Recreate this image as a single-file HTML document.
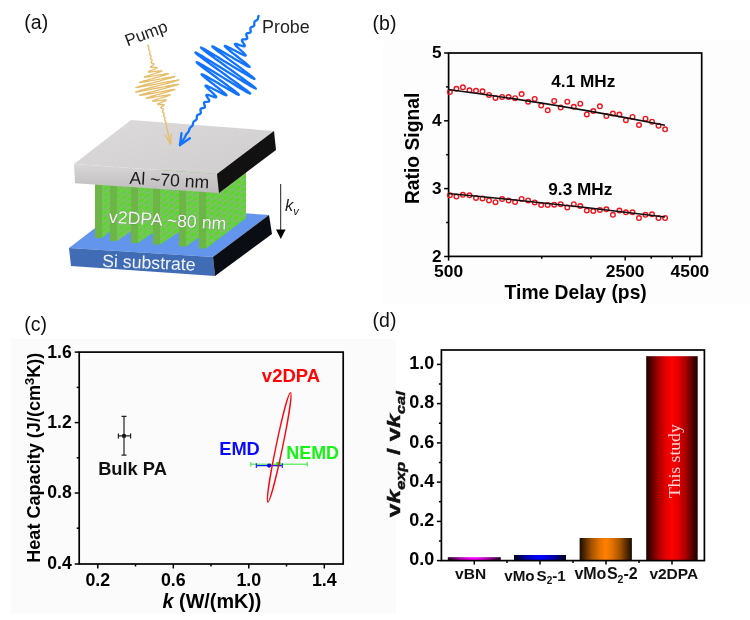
<!DOCTYPE html>
<html><head><meta charset="utf-8"><title>Figure</title>
<style>
html,body{margin:0;padding:0;background:#fff;}
body{width:750px;height:620px;overflow:hidden;}
svg{display:block;font-family:"Liberation Sans",sans-serif;}
.b{font-weight:bold;}
.ax{stroke:#000;stroke-width:1.7;fill:none;stroke-linecap:square;}
.tk{stroke:#000;stroke-width:1.5;fill:none;}
</style></head><body>
<svg width="750" height="620" viewBox="0 0 750 620">
<defs>
<linearGradient id="gRed" x1="0" x2="1" y1="0" y2="0"><stop offset="0.00" stop-color="#1c0000"/><stop offset="0.07" stop-color="#420000"/><stop offset="0.23" stop-color="#a60000"/><stop offset="0.38" stop-color="#e30000"/><stop offset="0.50" stop-color="#ff0000"/><stop offset="0.62" stop-color="#e30000"/><stop offset="0.77" stop-color="#a60000"/><stop offset="0.93" stop-color="#420000"/><stop offset="1.00" stop-color="#1c0000"/></linearGradient>
<linearGradient id="gOr" x1="0" x2="1" y1="0" y2="0"><stop offset="0.00" stop-color="#1c0e00"/><stop offset="0.07" stop-color="#422100"/><stop offset="0.23" stop-color="#a65300"/><stop offset="0.38" stop-color="#e37200"/><stop offset="0.50" stop-color="#ff8000"/><stop offset="0.62" stop-color="#e37200"/><stop offset="0.77" stop-color="#a65300"/><stop offset="0.93" stop-color="#422100"/><stop offset="1.00" stop-color="#1c0e00"/></linearGradient>
<linearGradient id="gBl" x1="0" x2="1" y1="0" y2="0"><stop offset="0.00" stop-color="#00001c"/><stop offset="0.07" stop-color="#000042"/><stop offset="0.23" stop-color="#0000a6"/><stop offset="0.38" stop-color="#0000e3"/><stop offset="0.50" stop-color="#0000ff"/><stop offset="0.62" stop-color="#0000e3"/><stop offset="0.77" stop-color="#0000a6"/><stop offset="0.93" stop-color="#000042"/><stop offset="1.00" stop-color="#00001c"/></linearGradient>
<linearGradient id="gMg" x1="0" x2="1" y1="0" y2="0"><stop offset="0.00" stop-color="#1c001c"/><stop offset="0.07" stop-color="#420042"/><stop offset="0.23" stop-color="#a600a6"/><stop offset="0.38" stop-color="#e300e3"/><stop offset="0.50" stop-color="#ff00ff"/><stop offset="0.62" stop-color="#e300e3"/><stop offset="0.77" stop-color="#a600a6"/><stop offset="0.93" stop-color="#420042"/><stop offset="1.00" stop-color="#1c001c"/></linearGradient>
<linearGradient id="gAlTop" x1="0" x2="1" y1="0" y2="1"><stop offset="0" stop-color="#dcdada"/><stop offset="1" stop-color="#cfcdcd"/></linearGradient>
<linearGradient id="gAlFront" x1="0" x2="0" y1="0" y2="1"><stop offset="0" stop-color="#d8d6d6"/><stop offset="1" stop-color="#bdbbbb"/></linearGradient>
<pattern id="tex" width="8" height="9" patternUnits="userSpaceOnUse" patternTransform="rotate(-38)"><rect width="8" height="9" fill="#74cc48"/><ellipse cx="4" cy="2.2" rx="2.9" ry="1.5" fill="#4fdd22"/><ellipse cx="0" cy="6.7" rx="2.9" ry="1.5" fill="#4fdd22"/><ellipse cx="8" cy="6.7" rx="2.9" ry="1.5" fill="#4fdd22"/><path d="M0 4.4H8M0 0H8M0 9H8" stroke="#98a892" stroke-width="0.8" fill="none"/><circle cx="0.5" cy="2.2" r="0.8" fill="#6fb0a0"/><circle cx="4" cy="6.7" r="0.8" fill="#6fb0a0"/></pattern>
</defs>
<rect width="750" height="620" fill="#fff"/>

<rect x="383" y="41" width="367" height="263" fill="#fdfdfd"/>
<rect x="11" y="339" width="385" height="274.5" fill="#fbfbfb"/>
<g font-size="19.5" fill="#111">
<text x="24.3" y="29">(a)</text><text x="372.6" y="29.7">(b)</text><text x="24.3" y="330.5">(c)</text><text x="372.6" y="326.8">(d)</text>
</g>
<g id="pa">
<polygon points="69,248 125,205 269,215 213,257" fill="#6495ed"/>
<polygon points="69,248 213,257 215,276 71,266" fill="#3f6cb4"/>
<polygon points="213,257 269,215 272,234 215,276" fill="#0a0d14"/>
<polygon points="102,170 110,170 110,231.6 102,238" fill="url(#tex)"/>
<rect x="95" y="170" width="7" height="68" fill="#6db546"/>
<polygon points="117,170 131,170 131,231.3 117,241" fill="url(#tex)"/>
<rect x="110" y="170" width="7" height="71" fill="#6db546"/>
<polygon points="138,170 153,170 153,232.8 138,243" fill="url(#tex)"/>
<rect x="131" y="170" width="7" height="73" fill="#6db546"/>
<polygon points="160,170 179,170 179,232.1 160,244.5" fill="url(#tex)"/>
<rect x="153" y="170" width="7" height="74.5" fill="#6db546"/>
<polygon points="186,170 199,170 199,237.3 186,246.5" fill="url(#tex)"/>
<rect x="179" y="170" width="7" height="76.5" fill="#6db546"/>
<polygon points="206,170 246,170 246,218 206,248.5" fill="url(#tex)"/>
<rect x="199" y="170" width="7" height="78.5" fill="#6db546"/>
<polygon points="131,120 274,131 217,174 74,164" fill="url(#gAlTop)"/>
<polygon points="74,164 217,174 219,193 75,183.3" fill="url(#gAlFront)"/>
<polygon points="217,174 274,131 276,150 219,193" fill="#111"/>
<text x="129.3" y="183.8" font-size="17.6" fill="#1a1a1a" transform="rotate(3.2 129.3 183.8)">Al ~70 nm</text>
<text x="108.5" y="222.7" font-size="17.8" fill="#f4f4f4" transform="rotate(3.4 108.5 222.7)" style="paint-order:stroke" stroke="#6a8a5a" stroke-width="0.6">v2DPA ~80 nm</text>
<text x="102" y="266.7" font-size="17.7" fill="#f2f4fa" transform="rotate(2.4 102 266.7)">Si substrate</text>
<line x1="280.7" y1="184" x2="280.7" y2="232" stroke="#222" stroke-width="1"/>
<polygon points="276,229.5 285.6,229.5 280.8,239" fill="#000"/>
<text x="285" y="211" font-size="16.5" font-style="italic" fill="#222">k<tspan font-size="11" dy="3.5">v</tspan></text>
<path d="M147.9 45 L147.9 45.1 L147.9 45.2 L147.9 45.4 L147.9 45.5 L147.9 45.6 L147.9 45.7 L148 45.8 L148 45.9 L148 46 L148.1 46.1 L148.1 46.3 L148.1 46.4 L148.2 46.5 L148.2 46.6 L148.3 46.7 L148.4 46.8 L148.4 46.9 L148.5 47 L148.6 47.1 L148.6 47.2 L148.7 47.3 L148.7 47.4 L148.8 47.5 L148.8 47.6 L148.9 47.7 L148.9 47.8 L148.9 47.9 L148.9 48 L149 48.1 L149 48.3 L149 48.4 L148.9 48.5 L148.9 48.6 L148.9 48.7 L148.9 48.8 L148.9 49 L148.9 49.1 L148.8 49.2 L148.8 49.3 L148.8 49.4 L148.8 49.6 L148.8 49.7 L148.8 49.8 L148.8 49.9 L148.8 50 L148.8 50.1 L148.9 50.2 L148.9 50.3 L149 50.4 L149 50.5 L149.1 50.6 L149.2 50.7 L149.3 50.8 L149.3 50.9 L149.4 51 L149.5 51.1 L149.6 51.2 L149.7 51.3 L149.7 51.4 L149.8 51.5 L149.8 51.6 L149.9 51.7 L149.9 51.8 L150 52 L150 52.1 L150 52.2 L150 52.3 L150 52.4 L150 52.5 L149.9 52.7 L149.9 52.8 L149.9 52.9 L149.8 53 L149.8 53.2 L149.7 53.3 L149.7 53.4 L149.7 53.5 L149.6 53.7 L149.6 53.8 L149.6 53.9 L149.6 54 L149.6 54.1 L149.6 54.2 L149.7 54.3 L149.7 54.4 L149.8 54.5 L149.9 54.6 L149.9 54.7 L150 54.8 L150.1 54.9 L150.2 55 L150.3 55.1 L150.4 55.2 L150.5 55.3 L150.6 55.4 L150.7 55.5 L150.8 55.6 L150.9 55.7 L150.9 55.8 L151 55.9 L151 56 L151 56.1 L151.1 56.2 L151 56.3 L151 56.5 L151 56.6 L151 56.7 L150.9 56.8 L150.8 57 L150.8 57.1 L150.7 57.2 L150.6 57.4 L150.6 57.5 L150.5 57.6 L150.5 57.7 L150.4 57.9 L150.4 58 L150.4 58.1 L150.4 58.2 L150.4 58.3 L150.5 58.4 L150.5 58.5 L150.6 58.6 L150.7 58.7 L150.7 58.8 L150.9 58.9 L151 59 L151.1 59.1 L151.2 59.2 L151.4 59.3 L151.5 59.4 L151.6 59.5 L151.7 59.5 L151.8 59.6 L151.9 59.7 L152 59.8 L152.1 59.9 L152.1 60 L152.1 60.1 L152.1 60.3 L152.1 60.4 L152.1 60.5 L152.1 60.6 L152 60.7 L151.9 60.9 L151.9 61 L151.8 61.2 L151.7 61.3 L151.6 61.4 L151.5 61.6 L151.4 61.7 L151.3 61.8 L151.3 62 L151.2 62.1 L151.1 62.2 L151.1 62.3 L151.1 62.5 L151.1 62.6 L151.1 62.7 L151.2 62.8 L151.3 62.9 L151.4 63 L151.5 63.1 L151.7 63.1 L151.9 63.2 L152.1 63.3 L152.3 63.3 L152.5 63.4 L152.7 63.5 L152.9 63.5 L153.1 63.6 L153.3 63.7 L153.5 63.8 L153.7 63.8 L153.8 63.9 L153.8 64 L153.9 64.1 L153.9 64.3 L153.8 64.4 L153.7 64.5 L153.6 64.7 L153.4 64.8 L153.2 65 L153 65.2 L152.7 65.3 L152.4 65.5 L152.1 65.7 L151.8 65.9 L151.5 66.1 L151.2 66.2 L151 66.4 L150.8 66.6 L150.6 66.7 L150.5 66.9 L150.5 67 L150.5 67.1 L150.6 67.2 L150.8 67.3 L151 67.3 L151.4 67.4 L151.7 67.4 L152.2 67.4 L152.6 67.4 L153.2 67.4 L153.7 67.4 L154.2 67.4 L154.8 67.4 L155.3 67.4 L155.8 67.4 L156.2 67.4 L156.5 67.5 L156.8 67.5 L157 67.6 L157.1 67.7 L157 67.8 L156.9 68 L156.7 68.1 L156.3 68.3 L155.9 68.5 L155.3 68.8 L154.7 69 L154 69.3 L153.3 69.6 L152.5 69.9 L151.8 70.2 L151 70.5 L150.3 70.7 L149.7 71 L149.2 71.2 L148.8 71.4 L148.5 71.6 L148.3 71.8 L148.3 71.9 L148.5 72 L148.8 72 L149.3 72 L149.9 72 L150.7 71.9 L151.6 71.8 L152.6 71.7 L153.7 71.6 L154.8 71.4 L156 71.3 L157.1 71.2 L158.2 71 L159.2 70.9 L160.1 70.8 L160.8 70.8 L161.4 70.8 L161.8 70.8 L162 70.8 L162 71 L161.8 71.1 L161.3 71.4 L160.6 71.6 L159.7 72 L158.6 72.3 L157.4 72.7 L156 73.1 L154.6 73.6 L153 74 L151.5 74.5 L150.1 75 L148.7 75.4 L147.4 75.8 L146.3 76.2 L145.4 76.5 L144.8 76.7 L144.4 76.9 L144.3 77.1 L144.5 77.1 L145 77.1 L145.8 77.1 L146.9 76.9 L148.3 76.8 L149.8 76.5 L151.6 76.2 L153.5 75.9 L155.5 75.6 L157.5 75.2 L159.5 74.9 L161.5 74.6 L163.3 74.3 L164.9 74 L166.2 73.8 L167.3 73.7 L168.1 73.6 L168.5 73.7 L168.5 73.8 L168.2 74 L167.4 74.2 L166.4 74.6 L164.9 75 L163.2 75.6 L161.2 76.1 L158.9 76.8 L156.6 77.4 L154.1 78.1 L151.6 78.8 L149.2 79.4 L147 80.1 L144.9 80.6 L143 81.2 L141.6 81.6 L140.4 82 L139.7 82.3 L139.4 82.5 L139.6 82.5 L140.3 82.5 L141.4 82.4 L142.9 82.1 L144.8 81.8 L147.1 81.4 L149.7 80.9 L152.5 80.4 L155.4 79.9 L158.4 79.3 L161.3 78.8 L164.2 78.2 L166.8 77.7 L169.2 77.3 L171.3 77 L172.9 76.7 L174.1 76.6 L174.8 76.5 L175 76.6 L174.6 76.8 L173.7 77.1 L172.3 77.5 L170.4 78.1 L168.1 78.7 L165.4 79.4 L162.5 80.2 L159.3 81.1 L156 81.9 L152.7 82.8 L149.5 83.7 L146.4 84.5 L143.6 85.2 L141.1 85.9 L139 86.5 L137.4 87 L136.4 87.3 L135.9 87.5 L136 87.6 L136.6 87.6 L137.9 87.4 L139.7 87.1 L142 86.7 L144.7 86.2 L147.8 85.7 L151.1 85 L154.6 84.3 L158.3 83.6 L161.8 82.9 L165.3 82.2 L168.6 81.6 L171.5 81.1 L174 80.6 L176.1 80.3 L177.6 80 L178.5 79.9 L178.9 80 L178.6 80.2 L177.7 80.5 L176.3 80.9 L174.2 81.5 L171.7 82.2 L168.8 83 L165.6 83.8 L162.1 84.7 L158.5 85.6 L154.8 86.6 L151.3 87.5 L147.9 88.4 L144.7 89.2 L141.9 90 L139.6 90.6 L137.8 91.2 L136.5 91.6 L135.8 91.8 L135.8 92 L136.3 92 L137.5 91.8 L139.2 91.5 L141.4 91.1 L144.1 90.7 L147.2 90.1 L150.5 89.4 L154 88.7 L157.6 88 L161.2 87.3 L164.7 86.7 L168 86 L170.9 85.5 L173.5 85 L175.6 84.6 L177.2 84.4 L178.3 84.3 L178.7 84.3 L178.6 84.4 L177.9 84.7 L176.7 85.1 L174.9 85.6 L172.7 86.2 L170.1 86.9 L167.2 87.7 L164 88.6 L160.7 89.4 L157.4 90.3 L154.2 91.1 L151.1 92 L148.2 92.7 L145.7 93.4 L143.5 94 L141.8 94.5 L140.5 94.9 L139.8 95.2 L139.7 95.4 L140 95.4 L140.9 95.3 L142.2 95.1 L144 94.8 L146.2 94.5 L148.7 94 L151.4 93.5 L154.3 93 L157.3 92.4 L160.3 91.8 L163.2 91.3 L165.9 90.8 L168.3 90.4 L170.5 90 L172.3 89.7 L173.7 89.5 L174.6 89.4 L175.1 89.4 L175.1 89.5 L174.7 89.7 L173.8 90 L172.6 90.4 L171 90.9 L169 91.5 L166.9 92.1 L164.5 92.7 L162.1 93.4 L159.6 94.1 L157.2 94.7 L154.9 95.4 L152.7 96 L150.8 96.5 L149.2 97 L147.8 97.4 L146.9 97.8 L146.3 98 L146.1 98.2 L146.2 98.3 L146.8 98.3 L147.6 98.2 L148.8 98 L150.3 97.8 L152 97.5 L153.8 97.2 L155.8 96.9 L157.8 96.6 L159.9 96.2 L161.8 95.9 L163.7 95.6 L165.4 95.3 L166.9 95.1 L168.1 94.9 L169.1 94.8 L169.8 94.8 L170.2 94.8 L170.3 94.9 L170.1 95 L169.6 95.3 L168.9 95.5 L167.9 95.9 L166.8 96.3 L165.5 96.7 L164 97.1 L162.5 97.6 L161 98 L159.5 98.5 L158.1 98.9 L156.8 99.3 L155.6 99.7 L154.6 100.1 L153.8 100.4 L153.1 100.6 L152.7 100.8 L152.6 101 L152.6 101.1 L152.9 101.2 L153.4 101.2 L154 101.1 L154.8 101.1 L155.8 101 L156.8 100.8 L157.9 100.7 L159.1 100.6 L160.2 100.4 L161.3 100.3 L162.4 100.2 L163.4 100 L164.2 100 L164.9 99.9 L165.5 99.9 L165.9 99.9 L166.2 100 L166.3 100.1 L166.3 100.2 L166 100.4 L165.7 100.6 L165.2 100.8 L164.7 101 L164 101.3 L163.3 101.6 L162.6 101.8 L161.8 102.1 L161.1 102.4 L160.4 102.7 L159.7 103 L159.1 103.2 L158.6 103.4 L158.2 103.7 L157.9 103.8 L157.6 104 L157.6 104.1 L157.6 104.3 L157.7 104.3 L157.9 104.4 L158.2 104.5 L158.6 104.5 L159 104.5 L159.5 104.5 L160 104.5 L160.6 104.5 L161.1 104.5 L161.6 104.5 L162.1 104.5 L162.6 104.5 L163 104.5 L163.4 104.6 L163.7 104.6 L163.9 104.7 L164 104.7 L164.1 104.8 L164.1 105 L164.1 105.1 L163.9 105.2 L163.8 105.4 L163.6 105.6 L163.3 105.7 L163 105.9 L162.7 106.1 L162.4 106.3 L162.1 106.5 L161.8 106.6 L161.6 106.8 L161.3 107 L161.1 107.1 L161 107.3 L160.8 107.4 L160.8 107.6 L160.7 107.7 L160.7 107.8 L160.8 107.9 L160.9 108 L161 108.1 L161.2 108.2 L161.3 108.3 L161.5 108.3 L161.8 108.4 L162 108.5 L162.2 108.5 L162.4 108.6 L162.6 108.7 L162.8 108.7 L163 108.8 L163.1 108.9 L163.3 109 L163.4 109.1 L163.4 109.2 L163.5 109.3 L163.5 109.4 L163.5 109.5 L163.5 109.6 L163.5 109.7 L163.4 109.9 L163.3 110 L163.3 110.1 L163.2 110.3 L163.1 110.4 L163 110.5 L162.9 110.7 L162.8 110.8 L162.7 110.9 L162.7 111.1 L162.6 111.2 L162.5 111.3 L162.5 111.5 L162.5 111.6 L162.5 111.7 L162.5 111.8 L162.5 111.9 L162.6 112 L162.6 112.1 L162.7 112.2 L162.8 112.3 L162.9 112.4 L163.1 112.5 L163.2 112.6 L163.3 112.7 L163.4 112.8 L163.6 112.8 L163.7 112.9 L163.8 113 L163.9 113.1 L164 113.2 L164.1 113.3 L164.1 113.4 L164.2 113.5 L164.2 113.6 L164.2 113.7 L164.2 113.8 L164.2 114 L164.2 114.1 L164.1 114.2 L164.1 114.3 L164 114.5 L163.9 114.6 L163.9 114.7 L163.8 114.9 L163.8 115 L163.7 115.1 L163.6 115.2 L163.6 115.4 L163.6 115.5 L163.6 115.6 L163.6 115.7 L163.6 115.8 L163.6 116 L163.6 116.1 L163.7 116.2 L163.8 116.3 L163.8 116.4 L163.9 116.5 L164 116.6 L164.1 116.6 L164.2 116.7 L164.3 116.8 L164.4 116.9 L164.5 117 L164.6 117.1 L164.7 117.2 L164.8 117.3 L164.8 117.4 L164.9 117.5 L164.9 117.6 L165 117.7 L165 117.8 L165 117.9 L165 118.1 L165 118.2 L165 118.3 L164.9 118.4 L164.9 118.5 L164.9 118.7 L164.8 118.8 L164.8 118.9 L164.7 119 L164.7 119.2 L164.7 119.3 L164.7 119.4 L164.6 119.5 L164.6 119.7 L164.6 119.8 L164.6 119.9 L164.7 120 L164.7 120.1 L164.7 120.2 L164.8 120.3 L164.8 120.4 L164.9 120.5 L165 120.6 L165.1 120.7 L165.1 120.8 L165.2 120.9 L165.3 121 L165.4 121.1 L165.5 121.2 L165.5 121.3 L165.6 121.4 L165.7 121.5 L165.7 121.6 L165.7 121.7 L165.8 121.8 L165.8 121.9 L165.8 122 L165.8 122.2 L165.8 122.3 L165.8 122.4 L165.8 122.5 L165.8 122.6 L165.8 122.7 L165.8 122.9 L165.7 123 L165.7 123.1 L165.7 123.2 L165.7 123.3 L165.7 123.5 L165.7 123.6 L165.7 123.7 L165.7 123.8 L165.7 123.9 L165.7 124 L165.7 124.1 L165.8 124.3 L165.8 124.4 L165.8 124.5 L165.9 124.6 L166 124.7 L166 124.8 L166.1 124.9 L166.1 125 L166.2 125.1 L166.3 125.2 L166.3 125.3 L166.4 125.4 L166.4 125.5 L166.5 125.6 L166.5 125.7 L166.6 125.8 L166.6 125.9 L166.6 126 L166.7 126.1 L166.7 126.2 L166.7 126.4 L166.7 126.5 L166.7 126.6 L166.7 126.7 L166.7 126.8 L166.7 126.9 L166.7 127.1 L166.7 127.2 L166.7 127.3 L166.7 127.4 L166.7 127.5 L166.7 127.6 L166.7 127.8 L166.7 127.9 L166.7 128 L166.7 128.1 L166.7 128.2 L166.8 128.3 L166.8 128.4 L166.8 128.5 L166.9 128.6 L166.9 128.7 L167 128.8 L167 128.9 L167.1 129 L167.1 129.2 L167.2 129.3 L167.2 129.4 L167.3 129.5 L167.3 129.6 L167.4 129.7 L167.4 129.8 L167.4 129.9 L167.5 130 L167.5 130.1 L167.5 130.2 L167.5 130.3 L167.5 130.4 L167.6 130.6 L167.6 130.7 L167.6 130.8 L167.6 130.9 L167.6 131 L167.6 131.1 L167.6 131.2 L167.6 131.4 L167.6 131.5 L167.6 131.6 L167.6 131.7 L167.6 131.8 L167.7 131.9 L167.7 132 L167.7 132.1 L167.7 132.3 L167.7 132.4 L167.8 132.5 L167.8 132.6 L167.8 132.7 L167.9 132.8 L167.9 132.9 L168 133 L168 133.1 L168 133.2 L168.1 133.3 L168.1 133.4 L168.2 133.5 L168.2 133.6 L168.2 133.8 L168.3 133.9 L168.3 134 L168.3 134.1 L168.4 134.2 L168.4 134.3 L168.4 134.4 L168.4 134.5 L168.4 134.6 L168.5 134.7 L168.5 134.9 L168.5 135 L168.5 135.1 L168.5 135.2 L168.5 135.3 L168.5 135.4 L168.6 135.5 L168.6 135.6 L168.6 135.8 L168.6 135.9 L168.6 136 L168.6 136.1 L168.7 136.2 L168.7 136.3 L168.7 136.4 L168.7 136.5 L168.8 136.6 L168.8 136.8 L168.8 136.9 L168.9 137 L168.9 137.1 L168.9 137.2 L169 137.3 L169 137.4 L169 137.5 L169.1 137.6 L169.1 137.7 L169.1 137.8 L169.2 137.9 L169.2 138 L169.2 138.2 L169.3 138.3 L169.3 138.4 L169.3 138.5 L169.3 138.6 L169.3 138.7 L169.4 138.8 L169.4 138.9 L169.4 139 L169.4 139.2 L169.4 139.3 L169.5 139.4 L169.5 139.5 L169.5 139.6 L169.5 139.7 L169.5 139.8 L169.5 139.9 L169.6 140 L169.6 140.2 L169.6 140.3 L169.6 140.4 L169.7 140.5 L169.7 140.6 L169.7 140.7 L169.7 140.8 L169.8 140.9 L169.8 141 L169.8 141.1 L169.9 141.3 L169.9 141.4 L169.9 141.5 L170 141.6 L170 141.7 L170 141.8 L170 141.9 L170.1 142 L170.1 142.1 L170.1 142.2 L170.2 142.3 L170.2 142.5 L170.2 142.6 L170.2 142.7 L170.3 142.8 L170.3 142.9 L170.3 143 L170.3 143.1 L170.3 143.2 L170.4 143.3 L170.4 143.4 L170.4 143.6 L170.4 143.7 L170.4 143.8 L170.5 143.9 L170.5 144" fill="none" stroke="#e6bd68" stroke-width="1.3" stroke-linejoin="round" stroke-linecap="round"/>
<line x1="170.5" y1="144" x2="171.3" y2="134" stroke="#e6bd68" stroke-width="1.3" stroke-linecap="round"/>
<line x1="170.5" y1="144" x2="165.5" y2="135.3" stroke="#e6bd68" stroke-width="1.3" stroke-linecap="round"/>
<path d="M258.6 15.8 L258.6 15.9 L258.5 16.1 L258.4 16.2 L258.4 16.4 L258.3 16.6 L258.3 16.7 L258.2 16.9 L258.2 17.1 L258.2 17.3 L258.2 17.5 L258.1 17.6 L258.1 17.8 L258.1 18 L258 18.2 L258 18.4 L258 18.5 L257.9 18.7 L257.8 18.9 L257.8 19 L257.7 19.2 L257.6 19.3 L257.5 19.5 L257.4 19.6 L257.3 19.7 L257.2 19.8 L257.1 20 L256.9 20.1 L256.8 20.2 L256.6 20.3 L256.5 20.4 L256.3 20.5 L256.1 20.6 L256 20.6 L255.8 20.7 L255.7 20.8 L255.5 20.9 L255.4 21 L255.2 21.1 L255.1 21.3 L255 21.4 L254.8 21.5 L254.7 21.6 L254.6 21.8 L254.6 21.9 L254.5 22.1 L254.5 22.3 L254.4 22.4 L254.4 22.6 L254.4 22.8 L254.3 23 L254.3 23.2 L254.3 23.4 L254.3 23.6 L254.3 23.8 L254.3 24 L254.3 24.2 L254.3 24.4 L254.3 24.6 L254.3 24.8 L254.3 25 L254.3 25.2 L254.2 25.3 L254.2 25.5 L254.1 25.6 L254 25.8 L253.9 25.9 L253.8 26 L253.6 26.2 L253.5 26.3 L253.3 26.4 L253.2 26.4 L253 26.5 L252.8 26.6 L252.6 26.7 L252.4 26.8 L252.2 26.8 L252 26.9 L251.8 27 L251.6 27 L251.4 27.1 L251.3 27.2 L251.1 27.3 L251 27.4 L250.8 27.5 L250.7 27.6 L250.6 27.8 L250.5 27.9 L250.5 28.1 L250.4 28.2 L250.4 28.4 L250.4 28.6 L250.4 28.8 L250.4 29 L250.4 29.2 L250.4 29.5 L250.5 29.7 L250.5 29.9 L250.6 30.1 L250.6 30.4 L250.6 30.6 L250.7 30.8 L250.7 31.1 L250.7 31.3 L250.7 31.5 L250.7 31.7 L250.7 31.8 L250.6 32 L250.5 32.2 L250.4 32.3 L250.3 32.4 L250.2 32.5 L250 32.6 L249.8 32.7 L249.7 32.8 L249.4 32.8 L249.2 32.9 L249 32.9 L248.8 33 L248.5 33 L248.3 33.1 L248 33.1 L247.8 33.1 L247.6 33.2 L247.3 33.3 L247.1 33.3 L246.9 33.4 L246.8 33.5 L246.6 33.6 L246.5 33.7 L246.4 33.8 L246.3 34 L246.3 34.2 L246.3 34.4 L246.3 34.6 L246.3 34.8 L246.3 35 L246.4 35.2 L246.4 35.5 L246.5 35.7 L246.6 36 L246.7 36.3 L246.8 36.5 L246.9 36.8 L247 37.1 L247.1 37.3 L247.1 37.5 L247.2 37.8 L247.2 38 L247.2 38.2 L247.2 38.4 L247.1 38.5 L247 38.7 L246.9 38.8 L246.8 38.9 L246.6 39 L246.4 39.1 L246.2 39.2 L246 39.2 L245.7 39.2 L245.4 39.3 L245.2 39.3 L244.9 39.3 L244.6 39.3 L244.3 39.3 L244 39.3 L243.7 39.3 L243.4 39.3 L243.2 39.4 L242.9 39.4 L242.7 39.5 L242.5 39.5 L242.4 39.6 L242.2 39.7 L242.1 39.8 L242 40 L241.9 40.1 L241.9 40.3 L241.9 40.5 L242 40.8 L242.1 41.1 L242.2 41.3 L242.4 41.7 L242.6 42 L242.8 42.3 L243 42.7 L243.3 43.1 L243.5 43.4 L243.8 43.8 L244 44.1 L244.2 44.5 L244.4 44.8 L244.6 45.1 L244.7 45.4 L244.8 45.7 L244.8 45.9 L244.7 46.1 L244.7 46.2 L244.5 46.3 L244.3 46.3 L244 46.3 L243.6 46.3 L243.2 46.2 L242.7 46.1 L242.1 45.9 L241.6 45.8 L240.9 45.5 L240.3 45.3 L239.6 45.1 L239 44.8 L238.3 44.6 L237.7 44.4 L237.1 44.2 L236.6 44 L236.1 43.9 L235.7 43.8 L235.3 43.8 L235.1 43.8 L234.9 44 L234.9 44.1 L235 44.4 L235.2 44.7 L235.4 45.1 L235.8 45.6 L236.3 46.1 L236.9 46.7 L237.6 47.3 L238.3 48 L239.1 48.7 L239.9 49.5 L240.7 50.2 L241.5 51 L242.3 51.7 L243.1 52.4 L243.8 53.1 L244.4 53.7 L244.9 54.3 L245.3 54.7 L245.6 55.1 L245.7 55.4 L245.6 55.5 L245.4 55.6 L245 55.5 L244.5 55.4 L243.8 55.1 L242.9 54.7 L241.9 54.2 L240.7 53.7 L239.5 53 L238.1 52.3 L236.7 51.6 L235.2 50.8 L233.8 50 L232.3 49.3 L230.9 48.5 L229.6 47.9 L228.4 47.3 L227.3 46.7 L226.4 46.3 L225.7 46 L225.2 45.9 L224.8 45.9 L224.8 46 L224.9 46.4 L225.4 46.8 L226 47.5 L226.9 48.3 L228 49.2 L229.3 50.3 L230.8 51.5 L232.4 52.8 L234.1 54.1 L235.9 55.5 L237.8 57 L239.6 58.4 L241.4 59.8 L243.2 61.2 L244.8 62.4 L246.2 63.6 L247.4 64.6 L248.4 65.5 L249.1 66.2 L249.5 66.6 L249.6 66.9 L249.4 67 L248.9 66.8 L248 66.4 L246.8 65.9 L245.4 65.1 L243.6 64.1 L241.6 62.9 L239.3 61.6 L236.9 60.2 L234.3 58.7 L231.7 57.1 L229 55.6 L226.4 54 L223.9 52.5 L221.4 51.1 L219.2 49.8 L217.2 48.7 L215.5 47.7 L214.1 47 L213.1 46.5 L212.5 46.3 L212.3 46.4 L212.4 46.7 L213.1 47.3 L214.1 48.2 L215.5 49.4 L217.3 50.8 L219.5 52.4 L221.9 54.2 L224.6 56.2 L227.5 58.4 L230.5 60.6 L233.6 62.9 L236.7 65.2 L239.8 67.4 L242.7 69.6 L245.4 71.6 L247.9 73.4 L250 75.1 L251.8 76.4 L253.2 77.6 L254.1 78.4 L254.5 78.9 L254.4 79 L253.8 78.8 L252.8 78.3 L251.2 77.5 L249.2 76.3 L246.7 74.8 L243.8 73.1 L240.7 71.2 L237.2 69.1 L233.6 66.9 L229.8 64.6 L226 62.2 L222.2 59.9 L218.5 57.6 L215 55.4 L211.7 53.5 L208.8 51.7 L206.2 50.2 L204.2 49 L202.6 48.2 L201.5 47.7 L201 47.5 L201.1 47.8 L201.7 48.4 L202.9 49.4 L204.6 50.8 L206.9 52.5 L209.6 54.5 L212.7 56.7 L216.1 59.3 L219.8 61.9 L223.7 64.7 L227.7 67.6 L231.8 70.5 L235.7 73.4 L239.5 76.1 L243.1 78.7 L246.3 81.1 L249.2 83.2 L251.6 85 L253.5 86.5 L254.8 87.6 L255.6 88.3 L255.8 88.6 L255.4 88.5 L254.3 88 L252.7 87.1 L250.5 85.9 L247.8 84.3 L244.7 82.4 L241.2 80.2 L237.3 77.9 L233.2 75.3 L229 72.7 L224.6 70 L220.3 67.3 L216.1 64.7 L212.1 62.2 L208.4 59.9 L205 57.9 L202.1 56.1 L199.6 54.7 L197.7 53.6 L196.3 52.9 L195.5 52.5 L195.4 52.6 L195.8 53.1 L196.8 54 L198.4 55.3 L200.6 56.9 L203.2 58.9 L206.2 61.1 L209.6 63.6 L213.3 66.2 L217.2 69 L221.2 71.9 L225.2 74.8 L229.1 77.7 L233 80.4 L236.6 83 L239.9 85.4 L242.8 87.6 L245.3 89.5 L247.3 91 L248.8 92.2 L249.8 93.1 L250.2 93.5 L250 93.6 L249.3 93.3 L248 92.7 L246.1 91.7 L243.9 90.3 L241.1 88.7 L238.1 86.9 L234.7 84.8 L231.1 82.6 L227.3 80.3 L223.5 77.9 L219.7 75.6 L216 73.3 L212.4 71.1 L209.1 69.1 L206 67.2 L203.3 65.6 L201 64.3 L199.2 63.3 L197.9 62.6 L197 62.2 L196.6 62.2 L196.8 62.5 L197.4 63.1 L198.5 64 L200.1 65.3 L202 66.8 L204.3 68.5 L206.9 70.5 L209.7 72.5 L212.7 74.7 L215.8 77 L218.9 79.3 L222 81.5 L224.9 83.7 L227.8 85.8 L230.3 87.8 L232.7 89.5 L234.7 91 L236.3 92.3 L237.6 93.4 L238.4 94.2 L238.8 94.6 L238.8 94.9 L238.4 94.8 L237.6 94.4 L236.5 93.9 L234.9 93 L233.1 92 L231 90.8 L228.7 89.5 L226.2 88 L223.6 86.5 L220.9 84.9 L218.3 83.3 L215.7 81.8 L213.2 80.3 L210.8 78.9 L208.7 77.7 L206.8 76.6 L205.1 75.7 L203.8 75 L202.7 74.5 L202 74.2 L201.6 74.2 L201.5 74.3 L201.8 74.7 L202.3 75.3 L203.2 76 L204.3 77 L205.6 78.1 L207.1 79.3 L208.7 80.6 L210.5 82 L212.3 83.4 L214.2 84.8 L216 86.3 L217.8 87.6 L219.5 89 L221 90.2 L222.4 91.4 L223.7 92.4 L224.7 93.3 L225.5 94 L226 94.5 L226.3 95 L226.4 95.2 L226.2 95.3 L225.8 95.2 L225.2 95 L224.4 94.7 L223.4 94.2 L222.2 93.6 L221 93 L219.6 92.3 L218.2 91.5 L216.7 90.8 L215.3 90 L213.8 89.2 L212.4 88.5 L211.1 87.8 L209.9 87.2 L208.8 86.7 L207.9 86.3 L207.1 85.9 L206.4 85.7 L205.9 85.6 L205.6 85.6 L205.5 85.7 L205.5 85.9 L205.7 86.2 L206 86.6 L206.4 87.1 L207 87.7 L207.6 88.3 L208.4 89 L209.2 89.7 L210 90.5 L210.8 91.2 L211.6 92 L212.4 92.7 L213.2 93.4 L213.9 94.1 L214.5 94.7 L215 95.3 L215.5 95.8 L215.8 96.2 L216.1 96.6 L216.2 96.9 L216.2 97.1 L216.2 97.3 L216 97.3 L215.7 97.3 L215.3 97.3 L214.9 97.2 L214.4 97.1 L213.8 96.9 L213.2 96.7 L212.5 96.5 L211.9 96.2 L211.2 96 L210.6 95.7 L209.9 95.5 L209.3 95.3 L208.8 95.1 L208.2 95 L207.8 94.9 L207.4 94.8 L207.1 94.8 L206.8 94.8 L206.6 94.9 L206.5 95 L206.4 95.2 L206.4 95.4 L206.4 95.6 L206.5 95.9 L206.6 96.1 L206.8 96.5 L207 96.8 L207.3 97.2 L207.5 97.5 L207.8 97.9 L208 98.3 L208.2 98.6 L208.5 99 L208.7 99.3 L208.9 99.6 L209 99.9 L209.1 100.2 L209.2 100.5 L209.2 100.7 L209.2 100.9 L209.2 101.1 L209.1 101.3 L209 101.4 L208.9 101.5 L208.7 101.6 L208.5 101.7 L208.3 101.7 L208.1 101.8 L207.9 101.8 L207.6 101.8 L207.3 101.9 L207.1 101.9 L206.8 101.9 L206.5 101.9 L206.2 101.9 L205.9 101.9 L205.6 101.9 L205.3 101.9 L205.1 102 L204.9 102 L204.6 102.1 L204.5 102.2 L204.3 102.3 L204.2 102.4 L204.1 102.5 L204 102.7 L204 102.9 L204 103 L204 103.3 L204 103.5 L204.1 103.7 L204.1 104 L204.2 104.2 L204.3 104.5 L204.4 104.7 L204.5 105 L204.6 105.3 L204.7 105.5 L204.7 105.8 L204.8 106 L204.9 106.3 L204.9 106.5 L204.9 106.7 L204.9 106.9 L204.8 107.1 L204.8 107.2 L204.7 107.4 L204.6 107.5 L204.5 107.6 L204.3 107.7 L204.1 107.8 L203.9 107.9 L203.7 107.9 L203.5 108 L203.3 108 L203 108.1 L202.8 108.1 L202.5 108.1 L202.3 108.2 L202.1 108.2 L201.8 108.3 L201.6 108.3 L201.4 108.4 L201.2 108.5 L201.1 108.6 L200.9 108.7 L200.8 108.8 L200.7 108.9 L200.6 109.1 L200.5 109.2 L200.5 109.4 L200.5 109.6 L200.4 109.8 L200.4 110 L200.5 110.2 L200.5 110.4 L200.5 110.6 L200.6 110.9 L200.6 111.1 L200.7 111.3 L200.7 111.6 L200.7 111.8 L200.8 112 L200.8 112.2 L200.8 112.4 L200.8 112.6 L200.8 112.8 L200.7 113 L200.7 113.2 L200.6 113.3 L200.5 113.5 L200.4 113.6 L200.3 113.7 L200.1 113.8 L200 113.9 L199.8 114 L199.6 114.1 L199.4 114.2 L199.2 114.2 L199 114.3 L198.8 114.4 L198.6 114.4 L198.5 114.5 L198.3 114.6 L198.1 114.7 L197.9 114.7 L197.7 114.8 L197.6 114.9 L197.4 115 L197.3 115.2 L197.2 115.3 L197.1 115.4 L197 115.6 L197 115.7 L196.9 115.9 L196.9 116.1 L196.8 116.3 L196.8 116.5 L196.8 116.6 L196.8 116.8 L196.8 117 L196.8 117.3 L196.8 117.5 L196.8 117.7 L196.8 117.9 L196.8 118.1 L196.8 118.3 L196.8 118.4 L196.8 118.6 L196.7 118.8 L196.7 119 L196.6 119.1 L196.5 119.3 L196.5 119.4 L196.4 119.6 L196.3 119.7 L196.1 119.8 L196 120 L195.9 120.1 L195.7 120.2 L195.6 120.3 L195.4 120.4 L195.3 120.5 L195.1 120.6 L194.9 120.6 L194.8 120.7 L194.6 120.8 L194.5 120.9 L194.3 121 L194.2 121.1 L194 121.3 L193.9 121.4 L193.8 121.5 L193.7 121.6 L193.6 121.8 L193.5 121.9 L193.4 122 L193.3 122.2 L193.3 122.4 L193.2 122.5 L193.2 122.7 L193.1 122.9 L193.1 123.1 L193.1 123.2 L193 123.4 L193 123.6 L193 123.8 L193 124 L192.9 124.1 L192.9 124.3 L192.9 124.5 L192.8 124.7 L192.8 124.8 L192.7 125 L192.6 125.2 L192.6 125.3 L192.5 125.5 L192.4 125.6 L192.3 125.8 L192.2 125.9 L192.1 126 L192 126.1 L191.9 126.3 L191.7 126.4 L191.6 126.5 L191.5 126.6 L191.3 126.7 L191.2 126.8 L191.1 126.9 L190.9 127 L190.8 127.2 L190.7 127.3 L190.5 127.4 L190.4 127.5 L190.3 127.6 L190.2 127.8 L190.1 127.9 L190 128 L189.9 128.2 L189.8 128.3 L189.7 128.5 L189.6 128.6 L189.6 128.8 L189.5 128.9 L189.5 129.1 L189.4 129.3 L189.3 129.4 L189.3 129.6 L189.2 129.8 L189.2 129.9 L189.1 130.1 L189.1 130.3 L189 130.4 L189 130.6 L188.9 130.8 L188.9 130.9 L188.8 131.1 L188.7 131.2 L188.6 131.4 L188.6 131.5 L188.5 131.7 L188.4 131.8 L188.3 132 L188.2 132.1 L188.1 132.2 L188 132.4 L187.9 132.5 L187.8 132.6 L187.7 132.7 L187.5 132.9 L187.4 133 L187.3 133.1 L187.2 133.2 L187.1 133.4 L187 133.5 L186.8 133.6 L186.7 133.7 L186.6 133.9 L186.5 134 L186.4 134.1 L186.3 134.3 L186.2 134.4 L186.1 134.6 L186.1 134.7 L186 134.9 L185.9 135 L185.8 135.2 L185.7 135.3 L185.7 135.5 L185.6 135.6 L185.5 135.8 L185.5 135.9 L185.4 136.1 L185.3 136.3 L185.3 136.4 L185.2 136.6 L185.1 136.7 L185.1 136.9 L185 137 L184.9 137.2 L184.9 137.3 L184.8 137.5 L184.7 137.6 L184.6 137.8 L184.5 137.9 L184.4 138.1 L184.3 138.2 L184.2 138.3 L184.1 138.5 L184 138.6 L183.9 138.7 L183.8 138.9 L183.7 139 L183.6 139.1 L183.5 139.3 L183.4 139.4 L183.3 139.5 L183.2 139.7 L183.1 139.8 L183 139.9 L182.9 140.1 L182.8 140.2 L182.7 140.4 L182.6 140.5 L182.5 140.6 L182.4 140.8 L182.4 140.9 L182.3 141.1 L182.2 141.2 L182.1 141.4 L182 141.5 L181.9 141.7 L181.9 141.8 L181.8 142 L181.7 142.1 L181.6 142.3 L181.6 142.4 L181.5 142.6 L181.4 142.7 L181.3 142.9 L181.3 143 L181.2 143.2 L181.1 143.3 L181 143.5 L180.9 143.6 L180.9 143.8 L180.8 143.9 L180.7 144 L180.6 144.2 L180.5 144.3 L180.4 144.5 L180.3 144.6 L180.2 144.8 L180.1 144.9 L180 145" fill="none" stroke="#1273ff" stroke-width="2.3" stroke-linejoin="round" stroke-linecap="round"/>
<line x1="180" y1="145" x2="189.9" y2="138.2" stroke="#1273ff" stroke-width="2.3" stroke-linecap="round"/>
<line x1="180" y1="145" x2="181.5" y2="133.1" stroke="#1273ff" stroke-width="2.3" stroke-linecap="round"/>
<text x="127.5" y="46.5" font-size="16.9" fill="#222" transform="rotate(-20.5 127.5 46.5)">Pump</text>
<text x="262" y="32.7" font-size="17.9" fill="#222">Probe</text>
</g>
<g id="pb">
<rect x="448.6" y="53" width="253.10000000000002" height="203.39999999999998" class="ax"/>
<line x1="444.1" y1="53" x2="448.6" y2="53" class="tk"/>
<text x="441.6" y="58.1" font-size="17.2" class="b" text-anchor="end">5</text>
<line x1="444.1" y1="120.8" x2="448.6" y2="120.8" class="tk"/>
<text x="441.6" y="125.9" font-size="17.2" class="b" text-anchor="end">4</text>
<line x1="444.1" y1="188.6" x2="448.6" y2="188.6" class="tk"/>
<text x="441.6" y="193.7" font-size="17.2" class="b" text-anchor="end">3</text>
<line x1="444.1" y1="256.5" x2="448.6" y2="256.5" class="tk"/>
<text x="441.6" y="261.6" font-size="17.2" class="b" text-anchor="end">2</text>
<line x1="446.1" y1="86.9" x2="448.6" y2="86.9" class="tk"/>
<line x1="446.1" y1="154.7" x2="448.6" y2="154.7" class="tk"/>
<line x1="446.1" y1="222.5" x2="448.6" y2="222.5" class="tk"/>
<line x1="448.6" y1="256.4" x2="448.6" y2="260.59999999999997" class="tk"/>
<text x="448.6" y="276.8" font-size="17.4" class="b" text-anchor="middle">500</text>
<line x1="541.7" y1="256.4" x2="541.7" y2="258.79999999999995" class="tk"/>
<line x1="591" y1="256.4" x2="591" y2="258.79999999999995" class="tk"/>
<line x1="625.2" y1="256.4" x2="625.2" y2="260.59999999999997" class="tk"/>
<text x="625.2" y="276.8" font-size="17.4" class="b" text-anchor="middle">2500</text>
<line x1="651.2" y1="256.4" x2="651.2" y2="258.79999999999995" class="tk"/>
<line x1="672.3" y1="256.4" x2="672.3" y2="258.79999999999995" class="tk"/>
<line x1="689.9" y1="256.4" x2="689.9" y2="260.59999999999997" class="tk"/>
<text x="689.9" y="276.8" font-size="17.4" class="b" text-anchor="middle">4500</text>
<text x="575.7" y="299.3" font-size="19.3" class="b" text-anchor="middle">Time Delay (ps)</text>
<text transform="translate(419.2 148.4) rotate(-90)" font-size="19.3" class="b" text-anchor="middle">Ratio Signal</text>
<text x="583.3" y="86.5" font-size="17.2" class="b" text-anchor="middle">4.1 MHz</text>
<text x="580.3" y="194.5" font-size="17.2" class="b" text-anchor="middle">9.3 MHz</text>
<g fill="none" stroke="#f0141e" stroke-width="1.4">
<circle cx="449.9" cy="92.1" r="2.3"/>
<circle cx="456.4" cy="88.8" r="2.3"/>
<circle cx="462.9" cy="87.3" r="2.3"/>
<circle cx="469.5" cy="90.3" r="2.3"/>
<circle cx="476" cy="90.8" r="2.3"/>
<circle cx="482.5" cy="91.3" r="2.3"/>
<circle cx="489" cy="94.9" r="2.3"/>
<circle cx="495.5" cy="97.9" r="2.3"/>
<circle cx="502.1" cy="96.9" r="2.3"/>
<circle cx="508.6" cy="97.1" r="2.3"/>
<circle cx="515.1" cy="98.2" r="2.3"/>
<circle cx="521.6" cy="94.1" r="2.3"/>
<circle cx="528.1" cy="101.7" r="2.3"/>
<circle cx="534.7" cy="98.9" r="2.3"/>
<circle cx="541.2" cy="105.5" r="2.3"/>
<circle cx="547.7" cy="110.3" r="2.3"/>
<circle cx="554.2" cy="100.9" r="2.3"/>
<circle cx="560.7" cy="107.5" r="2.3"/>
<circle cx="567.3" cy="101.7" r="2.3"/>
<circle cx="573.8" cy="106.8" r="2.3"/>
<circle cx="580.3" cy="103.7" r="2.3"/>
<circle cx="586.8" cy="114.4" r="2.3"/>
<circle cx="593.3" cy="111.1" r="2.3"/>
<circle cx="599.9" cy="106.3" r="2.3"/>
<circle cx="606.4" cy="116.1" r="2.3"/>
<circle cx="612.9" cy="113.6" r="2.3"/>
<circle cx="619.4" cy="114.6" r="2.3"/>
<circle cx="625.9" cy="120.2" r="2.3"/>
<circle cx="632.5" cy="116.9" r="2.3"/>
<circle cx="639" cy="125" r="2.3"/>
<circle cx="645.5" cy="118.7" r="2.3"/>
<circle cx="652" cy="121.7" r="2.3"/>
<circle cx="658.5" cy="125.8" r="2.3"/>
<circle cx="665.1" cy="129.3" r="2.3"/>
<circle cx="449.9" cy="195.3" r="2.3"/>
<circle cx="456.4" cy="196.6" r="2.3"/>
<circle cx="462.9" cy="194.8" r="2.3"/>
<circle cx="469.5" cy="195.3" r="2.3"/>
<circle cx="476" cy="197.9" r="2.3"/>
<circle cx="482.5" cy="198.4" r="2.3"/>
<circle cx="489" cy="200.4" r="2.3"/>
<circle cx="495.5" cy="202.2" r="2.3"/>
<circle cx="502.1" cy="199.1" r="2.3"/>
<circle cx="508.6" cy="200.4" r="2.3"/>
<circle cx="515.1" cy="201.9" r="2.3"/>
<circle cx="521.6" cy="198.9" r="2.3"/>
<circle cx="528.1" cy="200.4" r="2.3"/>
<circle cx="534.7" cy="202.4" r="2.3"/>
<circle cx="541.2" cy="205" r="2.3"/>
<circle cx="547.7" cy="205" r="2.3"/>
<circle cx="554.2" cy="204.7" r="2.3"/>
<circle cx="560.7" cy="204.2" r="2.3"/>
<circle cx="567.3" cy="207.5" r="2.3"/>
<circle cx="573.8" cy="204.2" r="2.3"/>
<circle cx="580.3" cy="206" r="2.3"/>
<circle cx="586.8" cy="210.5" r="2.3"/>
<circle cx="593.3" cy="211" r="2.3"/>
<circle cx="599.9" cy="210" r="2.3"/>
<circle cx="606.4" cy="209.3" r="2.3"/>
<circle cx="612.9" cy="214.8" r="2.3"/>
<circle cx="619.4" cy="210.5" r="2.3"/>
<circle cx="625.9" cy="212.3" r="2.3"/>
<circle cx="632.5" cy="212.3" r="2.3"/>
<circle cx="639" cy="218.1" r="2.3"/>
<circle cx="645.5" cy="214.8" r="2.3"/>
<circle cx="652" cy="214.3" r="2.3"/>
<circle cx="658.5" cy="218.1" r="2.3"/>
<circle cx="665.1" cy="218.1" r="2.3"/>
</g>
<path d="M448 89.5 Q556 103.5 665 125.3" fill="none" stroke="#111" stroke-width="1.5"/>
<path d="M448 193.6 Q556 203.5 665 217" fill="none" stroke="#111" stroke-width="1.5"/>
</g>
<g id="pc">
<rect x="79.2" y="352.1" width="264.0" height="211.89999999999998" class="ax"/>
<line x1="74.7" y1="352.1" x2="79.2" y2="352.1" class="tk"/>
<text x="71.8" y="357.5" font-size="17.6" class="b" text-anchor="end">1.6</text>
<line x1="74.7" y1="422.6" x2="79.2" y2="422.6" class="tk"/>
<text x="71.8" y="428" font-size="17.6" class="b" text-anchor="end">1.2</text>
<line x1="74.7" y1="493" x2="79.2" y2="493" class="tk"/>
<text x="71.8" y="498.4" font-size="17.6" class="b" text-anchor="end">0.8</text>
<line x1="74.7" y1="564" x2="79.2" y2="564" class="tk"/>
<text x="71.8" y="569.4" font-size="17.6" class="b" text-anchor="end">0.4</text>
<line x1="76.7" y1="387.4" x2="79.2" y2="387.4" class="tk"/>
<line x1="76.7" y1="457.8" x2="79.2" y2="457.8" class="tk"/>
<line x1="76.7" y1="528.2" x2="79.2" y2="528.2" class="tk"/>
<line x1="97.8" y1="564" x2="97.8" y2="568.5" class="tk"/>
<text x="97.8" y="586" font-size="17.8" class="b" text-anchor="middle">0.2</text>
<line x1="173.3" y1="564" x2="173.3" y2="568.5" class="tk"/>
<text x="173.3" y="586" font-size="17.8" class="b" text-anchor="middle">0.6</text>
<line x1="248.8" y1="564" x2="248.8" y2="568.5" class="tk"/>
<text x="248.8" y="586" font-size="17.8" class="b" text-anchor="middle">1.0</text>
<line x1="324.3" y1="564" x2="324.3" y2="568.5" class="tk"/>
<text x="324.3" y="586" font-size="17.8" class="b" text-anchor="middle">1.4</text>
<line x1="135.5" y1="564" x2="135.5" y2="566.5" class="tk"/>
<line x1="211" y1="564" x2="211" y2="566.5" class="tk"/>
<line x1="286.5" y1="564" x2="286.5" y2="566.5" class="tk"/>
<text x="212" y="608.3" font-size="19.8" class="b" text-anchor="middle"><tspan font-style="italic">k</tspan> (W/(mK))</text>
<text transform="translate(40.1 457.7) rotate(-90) scale(1.034 1)" font-size="17.5" class="b" text-anchor="middle">Heat Capacity (J/(cm<tspan font-size="12.5" dy="-6.5">3</tspan><tspan dy="6.5">K))</tspan></text>
<g stroke="#222" stroke-width="1.2" fill="none"><path d="M124 416.3V455.2M121.5 416.3h5M121.5 455.2h5M118.4 435.9H130.6M118.4 433.5v5M130.6 433.5v5"/></g><rect x="122.2" y="434.1" width="3.6" height="3.6" fill="#111"/>
<text x="132.5" y="475.3" font-size="18.3" class="b" text-anchor="middle" fill="#111">Bulk PA</text>
<g stroke="#35e435" stroke-width="1" fill="none"><path d="M250.8 464.2H307.2M250.8 462v4.5M307.2 462v4.5"/></g><rect x="276.3" y="462" width="4.4" height="4.4" fill="#2ee02e"/>
<g stroke="#1a1aff" stroke-width="1.1" fill="none"><path d="M256.3 465.6H282.3M256.3 463.3v4.6M282.3 463.3v4.6"/></g><circle cx="269.1" cy="465.6" r="2.1" fill="#0000e0"/>
<ellipse cx="279.2" cy="447.3" rx="3.3" ry="55.8" transform="rotate(11.7 279.2 447.3)" fill="none" stroke="#f80a12" stroke-width="1.4"/>
<text x="291" y="382.2" font-size="18.5" class="b" text-anchor="middle" fill="#ff0505">v2DPA</text>
<text x="239.5" y="454.8" font-size="18.3" class="b" text-anchor="middle" fill="#0a0aff">EMD</text>
<text x="312.7" y="458.9" font-size="17.9" class="b" text-anchor="middle" fill="#14f514">NEMD</text>
</g>
<g id="pd">
<rect x="447.8" y="557.2" width="53" height="3.4" fill="url(#gMg)"/>
<rect x="514" y="555" width="52" height="5.6" fill="url(#gBl)"/>
<rect x="579.6" y="538" width="52.3" height="22.6" fill="url(#gOr)"/>
<rect x="646.2" y="356.2" width="51.5" height="204.4" fill="url(#gRed)"/>
<rect x="441.4" y="350" width="263.0" height="210.60000000000002" class="ax"/>
<line x1="436.9" y1="560.6" x2="441.4" y2="560.6" class="tk"/>
<text x="434.2" y="565.4" font-size="18" class="b" text-anchor="end">0.0</text>
<line x1="438.9" y1="541" x2="441.4" y2="541" class="tk"/>
<line x1="436.9" y1="521.4" x2="441.4" y2="521.4" class="tk"/>
<text x="434.2" y="526.1" font-size="18" class="b" text-anchor="end">0.2</text>
<line x1="438.9" y1="501.7" x2="441.4" y2="501.7" class="tk"/>
<line x1="436.9" y1="482.1" x2="441.4" y2="482.1" class="tk"/>
<text x="434.2" y="486.9" font-size="18" class="b" text-anchor="end">0.4</text>
<line x1="438.9" y1="462.5" x2="441.4" y2="462.5" class="tk"/>
<line x1="436.9" y1="442.9" x2="441.4" y2="442.9" class="tk"/>
<text x="434.2" y="447.7" font-size="18" class="b" text-anchor="end">0.6</text>
<line x1="438.9" y1="423.2" x2="441.4" y2="423.2" class="tk"/>
<line x1="436.9" y1="403.6" x2="441.4" y2="403.6" class="tk"/>
<text x="434.2" y="408.4" font-size="18" class="b" text-anchor="end">0.8</text>
<line x1="438.9" y1="384" x2="441.4" y2="384" class="tk"/>
<line x1="436.9" y1="364.4" x2="441.4" y2="364.4" class="tk"/>
<text x="434.2" y="369.2" font-size="18" class="b" text-anchor="end">1.0</text>
<line x1="474.3" y1="560.6" x2="474.3" y2="564.6" class="tk"/>
<line x1="540" y1="560.6" x2="540" y2="564.6" class="tk"/>
<line x1="606" y1="560.6" x2="606" y2="564.6" class="tk"/>
<line x1="672" y1="560.6" x2="672" y2="564.6" class="tk"/>
<line x1="507" y1="560.6" x2="507" y2="563.1" class="tk"/>
<line x1="573" y1="560.6" x2="573" y2="563.1" class="tk"/>
<line x1="639" y1="560.6" x2="639" y2="563.1" class="tk"/>
<g font-size="15.5" class="b" text-anchor="middle" fill="#111">
<text x="470.6" y="578.7">vBN</text>
<text x="535" y="580.5" font-size="15.2">vMo<tspan dx="2">S</tspan><tspan font-size="10" dy="3.7">2</tspan><tspan dy="-3.7">-1</tspan></text>
<text x="606" y="578.9" font-size="16">vMo<tspan dx="0.5">S</tspan><tspan font-size="10.5" dy="3.7">2</tspan><tspan dy="-3.7">-2</tspan></text>
<text x="673.8" y="578.7">v2DPA</text>
</g>
<text transform="translate(680 461.2) rotate(-90)" font-size="17.6" text-anchor="middle" fill="#ffd6d6" font-family="'Liberation Serif',serif">This study</text>
<text transform="translate(400.2 454.2) rotate(-90) scale(1.31 1)" font-size="18.7" class="b" text-anchor="middle" fill="#111" stroke="#111" stroke-width="0.45">v<tspan font-style="italic">k</tspan><tspan font-style="italic" font-size="12.5" dy="4.5">exp</tspan><tspan dy="-4.5"> / v</tspan><tspan font-style="italic">k</tspan><tspan font-style="italic" font-size="12.5" dy="4.5">cal</tspan></text>
</g>
</svg></body></html>
